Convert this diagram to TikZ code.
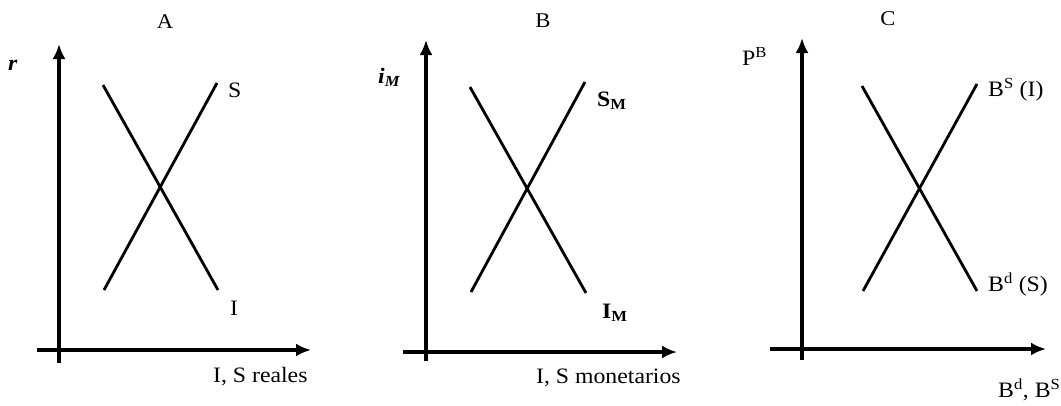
\documentclass[tikz,border=0pt]{standalone}
\usepackage{fontspec}
\setmainfont{Liberation Serif}[FakeStretch=1.08]
\usetikzlibrary{arrows.meta}
\begin{document}
\begin{tikzpicture}[x=1pt,y=-1pt,
  axis/.style={line width=3.2pt,-{Latex[length=15pt,width=13pt]}},
  curve/.style={line width=2.8pt},
  lbl/.style={inner sep=0pt,font=\fontsize{22}{26}\selectfont},
  ttl/.style={inner sep=0pt,anchor=base,font=\fontsize{21}{25}\selectfont},
]
\useasboundingbox (0,0) rectangle (1061,405);
% ---------- Panel A ----------
\node[ttl] (tA) at (165,28) {A};
\coordinate (Ay0) at (59,363); \coordinate (Ay1) at (59,44);
\coordinate (Ax0) at (37,350); \coordinate (Ax1) at (311,350);
\draw[axis] (Ay0) -- (Ay1);
\draw[axis] (Ax0) -- (Ax1);
\coordinate (AI0) at (103,85); \coordinate (AI1) at (218,290);
\coordinate (AS0) at (104,290); \coordinate (AS1) at (217,83);
\draw[curve] (AI0) -- (AI1);
\draw[curve] (AS0) -- (AS1);
\node[lbl,anchor=base west] (rA) at (8,70) {\textbf{\textit{r}}};
\node[lbl,anchor=base west] (SA) at (228,97) {S};
\node[lbl,anchor=base west] (IA) at (230,315) {I};
\node[lbl,anchor=base west] (xA) at (213,382) {I, S reales};
% ---------- Panel B ----------
\node[ttl] (tB) at (543,27) {B};
\coordinate (By0) at (426,361); \coordinate (By1) at (426,40);
\coordinate (Bx0) at (403,352); \coordinate (Bx1) at (677,352);
\draw[axis] (By0) -- (By1);
\draw[axis] (Bx0) -- (Bx1);
\coordinate (BI0) at (470,87); \coordinate (BI1) at (586,293);
\coordinate (BS0) at (471,292); \coordinate (BS1) at (585,82);
\draw[curve] (BI0) -- (BI1);
\draw[curve] (BS0) -- (BS1);
\node[lbl,anchor=base west] (iB) at (378,83) {\textbf{\textit{i\textsubscript{M}}}};
\node[lbl,anchor=base west] (SB) at (597,106) {\textbf{S\textsubscript{M}}};
\node[lbl,anchor=base west] (IB) at (602,318) {\textbf{I\textsubscript{M}}};
\node[lbl,anchor=base west] (xB) at (536,383) {I, S monetarios};
% ---------- Panel C ----------
\node[ttl] (tC) at (888,25) {C};
\coordinate (Cy0) at (802,360); \coordinate (Cy1) at (802,38);
\coordinate (Cx0) at (770,349); \coordinate (Cx1) at (1046,349);
\draw[axis] (Cy0) -- (Cy1);
\draw[axis] (Cx0) -- (Cx1);
\coordinate (CD0) at (862,86); \coordinate (CD1) at (977,291);
\coordinate (CS0) at (863,291); \coordinate (CS1) at (977,84);
\draw[curve] (CD0) -- (CD1);
\draw[curve] (CS0) -- (CS1);
\node[lbl,anchor=base west] (PC) at (742,65) {P\textsuperscript{B}};
\node[lbl,anchor=base west] (BsC) at (988,96) {B\textsuperscript{S} (I)};
\node[lbl,anchor=base west] (BdC) at (988,291) {B\textsuperscript{d} (S)};
\node[lbl,anchor=base west] (xC) at (998,397) {B\textsuperscript{d}, B\textsuperscript{S}};
\end{tikzpicture}
\end{document}
